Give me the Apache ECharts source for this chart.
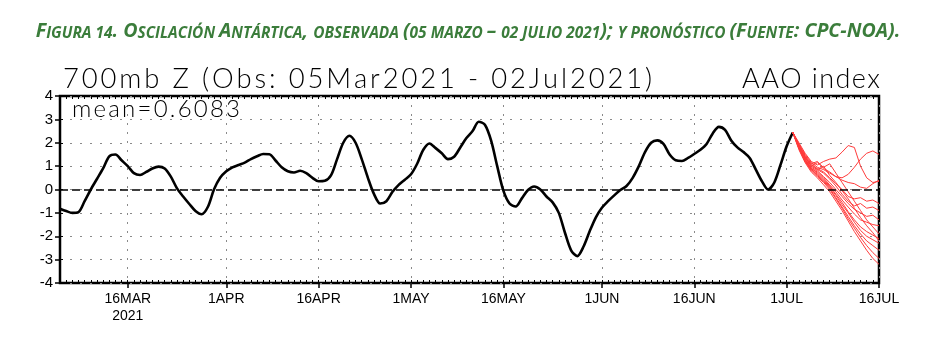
<!DOCTYPE html>
<html>
<head>
<meta charset="utf-8">
<script src="https://cdn.jsdelivr.net/npm/echarts@6/dist/echarts.min.js"></script>
<style>
html,body{margin:0;padding:0;background:#fff;}
#chart{width:936px;height:360px;}
</style>
</head>
<body>
<div id="chart"></div>
<script>
// ---- data ----
const startDay = '2021-03-05';
const nDays = 134; // 05 Mar .. 16 Jul
const tickDates = ['2021-03-16','2021-04-01','2021-04-16','2021-05-01','2021-05-16','2021-06-01','2021-06-16','2021-07-01','2021-07-16'];
const tickLabels = ['16MAR\n2021','1APR','16APR','1MAY','16MAY','1JUN','16JUN','1JUL','16JUL'];
const yTicks = [-4,-3,-2,-1,0,1,2,3,4];

// observed AAO index, daily 05 Mar .. 02 Jul 2021
const observed = [
 -0.82,-0.92,-1.0,-0.97,-0.5,0.0,0.45,0.9,1.42,1.5,
 1.25,1.0,0.7,0.62,0.75,0.9,0.98,0.9,0.55,0.05,
 -0.3,-0.62,-0.92,-1.06,-0.75,0.0,0.5,0.78,0.95,1.05,
 1.15,1.3,1.42,1.52,1.51,1.24,0.95,0.78,0.73,0.8,
 0.7,0.5,0.35,0.37,0.6,1.3,2.0,2.3,2.0,1.3,
 0.5,-0.2,-0.6,-0.5,-0.1,0.2,0.42,0.65,1.1,1.7,
 1.97,1.77,1.55,1.3,1.4,1.8,2.2,2.5,2.9,2.77,
 2.1,1.0,-0.05,-0.6,-0.73,-0.38,-0.02,0.13,0.0,-0.3,
 -0.55,-1.0,-1.85,-2.6,-2.85,-2.45,-1.8,-1.2,-0.78,-0.5,
 -0.25,-0.02,0.15,0.5,1.0,1.6,2.0,2.1,1.95,1.5,
 1.25,1.22,1.35,1.52,1.7,1.95,2.4,2.68,2.55,2.1,
 1.8,1.6,1.35,0.85,0.35,0.0,0.3,1.05,1.85,2.44
];
// forecast members, daily 02 Jul .. 16 Jul
const fc01 = [2.44,2.0,1.55,1.2,1.05,1.2,1.3,1.35,1.6,1.88,1.8,1.0,0.5,0.3,0.35];
const fc02 = [2.44,1.95,1.5,1.15,0.95,0.85,0.7,0.55,0.5,0.65,0.95,1.3,1.55,1.65,1.5];
const fc03 = [2.44,1.9,1.45,1.1,1.2,0.9,0.75,0.55,0.4,0.3,0.25,0.1,0.05,0.25,0.4];
const fc04 = [2.44,1.9,1.4,1.05,0.9,0.75,0.5,0.25,0.0,-0.3,-0.4,-0.35,-0.5,-0.45,-0.6];
const fc05 = [2.44,1.85,1.35,1.0,0.85,0.7,0.45,0.15,-0.2,-0.5,-0.7,-0.6,-0.8,-0.75,-0.9];
const fc06 = [2.44,1.85,1.3,0.95,0.8,0.55,0.3,0.0,-0.3,-0.6,-0.85,-1.0,-1.15,-1.1,-1.3];
const fc07 = [2.44,1.8,1.3,0.9,0.75,0.5,0.2,-0.1,-0.45,-0.75,-1.05,-1.3,-1.4,-1.5,-1.55];
const fc08 = [2.44,1.8,1.25,0.9,0.7,0.45,0.15,-0.2,-0.55,-0.95,-1.3,-1.6,-1.8,-1.95,-2.1];
const fc09 = [2.44,1.8,1.25,0.85,0.65,0.4,0.1,-0.25,-0.65,-1.0,-1.4,-1.75,-2.0,-2.15,-2.3];
const fc10 = [2.44,1.75,1.2,0.85,0.6,0.35,0.05,-0.35,-0.75,-1.15,-1.55,-1.9,-2.2,-2.4,-2.6];
const fc11 = [2.44,1.75,1.2,0.8,0.55,0.3,0.0,-0.4,-0.8,-1.25,-1.65,-2.05,-2.4,-2.7,-2.95];
const fc12 = [2.44,1.7,1.15,0.75,0.5,0.2,-0.1,-0.5,-0.9,-1.35,-1.8,-2.2,-2.6,-2.95,-3.2];
const fc13 = [2.44,1.9,1.4,1.0,1.15,0.95,1.1,0.7,0.3,-0.1,-0.5,-0.9,-1.3,-1.6,-1.9];
const fc14 = [2.44,1.85,1.35,1.1,0.85,1.0,0.6,0.3,-0.05,-0.4,-0.8,-1.2,-1.55,-1.85,-2.2];
const forecastMembers = [fc01,fc02,fc03,fc04,fc05,fc06,fc07,fc08,fc09,fc10,fc11,fc12,fc13,fc14];
const forecastStart = '2021-07-02';

const meanText = 'mean=0.6083';
const headTitle = 'Figura 14. Oscilación Antártica, observada (05 marzo – 02 julio 2021); y pronóstico (Fuente: CPC-NOA).';
const plotTitleLeft = '700mb Z (Obs: 05Mar2021 - 02Jul2021)';
const plotTitleRight = 'AAO index';

// ---- build ----
const categories = [];
const t0 = Date.parse(startDay + 'T00:00:00Z');
for (let i = 0; i < nDays; i++) {
  categories.push(new Date(t0 + i * 86400000).toISOString().slice(0, 10));
}
const labelMap = {};
tickDates.forEach((d, i) => { labelMap[d] = tickLabels[i]; });
const isTick = (idx, val) => labelMap[categories[idx]] !== undefined;
const fcOffset = categories.indexOf(forecastStart);

function smallCaps(s) {
  let out = '', cur = null, buf = '';
  for (const ch of s) {
    let cls;
    if (/[a-záéíóúñ0-9]/.test(ch)) cls = 's';
    else if (ch === ' ') cls = cur || 'b';
    else cls = 'b';
    if (cls !== cur && buf) { out += '{' + cur + '|' + buf + '}'; buf = ''; }
    cur = cls;
    buf += (cls === 's') ? ch.toUpperCase() : ch;
  }
  if (buf) out += '{' + cur + '|' + buf + '}';
  return out;
}

const green = '#3b7d3b';
const headFont = 'Open Sans';
const plotFont = 'Lato';
const measureCtx = document.createElement('canvas').getContext('2d');
// light text with extra letter spacing, emulating the plotting program's stroke font
function spaced(str, size, target, key) {
  measureCtx.font = '300 ' + size + 'px ' + plotFont;
  const chars = Array.from(str);
  const ws = chars.map(c => measureCtx.measureText(c).width);
  const natural = ws.reduce((a, b) => a + b, 0);
  const extra = (target - natural) / (chars.length - 1);
  const rich = {};
  let text = '';
  chars.forEach((c, i) => {
    const name = key + i;
    rich[name] = {
      fontFamily: plotFont, fontSize: size, fontWeight: 300, color: '#000',
      width: ws[i] + (i < chars.length - 1 ? extra : 0), lineHeight: size + 4
    };
    text += '{' + name + '|' + c + '}';
  });
  return { text: text, rich: rich };
}
const subLeft = spaced(plotTitleLeft, 27.4, 589, 'p');
const subRight = spaced(plotTitleRight, 27, 138, 'q');
const meanLbl = spaced(meanText, 24, 168, 'm');

const series = [{
  type: 'line',
  data: observed,
  symbol: 'none',
  smooth: 0.3,
  lineStyle: { color: '#000', width: 2.6 },
  z: 3,
  markLine: {
    silent: true,
    symbol: 'none',
    label: { show: false },
    lineStyle: { color: '#000', type: [8, 4], width: 1.6 },
    data: [{ yAxis: 0 }]
  }
}];
forecastMembers.forEach(m => {
  series.push({
    type: 'line',
    data: new Array(fcOffset).fill(null).concat(m),
    symbol: 'none',
    lineStyle: { color: '#ff3b3b', width: 1 },
    z: 4
  });
});

const chart = echarts.init(document.getElementById('chart'), null, { renderer: 'canvas' });
chart.setOption({
  animation: false,
  backgroundColor: '#fff',
  title: [
    {
      text: smallCaps(headTitle),
      left: 'center', top: 19, padding: 0,
      textStyle: {
        rich: {
          b: { fontFamily: headFont, fontSize: 19.6, fontWeight: 'bold', fontStyle: 'italic', color: green, verticalAlign: 'bottom', lineHeight: 22 },
          s: { fontFamily: headFont, fontSize: 15.45, fontWeight: 'bold', fontStyle: 'italic', color: green, verticalAlign: 'bottom', lineHeight: 22 }
        }
      }
    },
    { text: subLeft.text, left: 63, top: 63, padding: 0, textStyle: { rich: subLeft.rich } },
    { text: subRight.text, left: 742, top: 64, padding: 0, textStyle: { rich: subRight.rich } },
    { text: meanLbl.text, left: 72, top: 95, padding: 0, textStyle: { rich: meanLbl.rich } }
  ],
  grid: {
    left: 60, right: 57, top: 96, bottom: 77,
    show: true, borderColor: '#000', borderWidth: 2.5, backgroundColor: 'transparent'
  },
  xAxis: [
    {
      type: 'category', data: categories, boundaryGap: false,
      axisLine: { show: false, onZero: false },
      axisTick: { show: true, interval: isTick, length: 5, lineStyle: { color: '#000', width: 1.5 } },
      axisLabel: {
        interval: isTick, margin: 8,
        formatter: v => labelMap[v] || '',
        fontFamily: 'Liberation Sans', fontSize: 14, color: '#000', lineHeight: 17
      },
      splitLine: { show: true, interval: isTick, lineStyle: { color: '#8a8a8a', type: [2, 7], width: 1 } }
    },
    {
      type: 'category', data: categories, boundaryGap: false, position: 'bottom',
      axisLine: { show: false, onZero: false },
      axisTick: { show: true, interval: 0, inside: true, length: 3, lineStyle: { color: '#000', width: 1 } },
      axisLabel: { show: false }, splitLine: { show: false }
    },
    {
      type: 'category', data: categories, boundaryGap: false, position: 'top',
      axisLine: { show: false, onZero: false },
      axisTick: { show: true, interval: 0, inside: true, length: 3, lineStyle: { color: '#000', width: 1 } },
      axisLabel: { show: false }, splitLine: { show: false }
    }
  ],
  yAxis: [
    {
      type: 'value', min: yTicks[0], max: yTicks[yTicks.length - 1], interval: 1,
      axisLine: { show: false, onZero: false },
      axisTick: { show: true, length: 5, lineStyle: { color: '#000', width: 1.5 } },
      axisLabel: { margin: 7, fontFamily: 'Liberation Sans', fontSize: 15, color: '#000' },
      splitLine: { show: true, lineStyle: { color: '#8a8a8a', type: [2, 8], width: 1 } }
    },
    {
      type: 'value', min: yTicks[0], max: yTicks[yTicks.length - 1], interval: 1, position: 'left',
      axisLine: { show: false, onZero: false },
      axisTick: { show: true, inside: true, length: 3, lineStyle: { color: '#000', width: 1 } },
      axisLabel: { show: false }, splitLine: { show: false }
    }
  ],
  series: series
});
</script>
</body>
</html>
